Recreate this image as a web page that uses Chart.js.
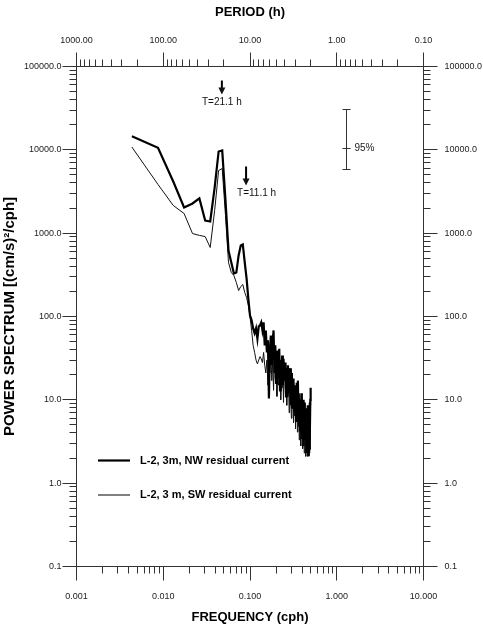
<!DOCTYPE html>
<html>
<head>
<meta charset="utf-8">
<script src="https://cdn.jsdelivr.net/npm/chart.js@4.4.0/dist/chart.umd.min.js"></script>
<style>
  html, body { margin: 0; padding: 0; background: #fff; }
</style>
</head>
<body>
<canvas id="spec" width="483" height="630"></canvas>
<script>
// frequency (cph) of each spectral estimate, harmonics of a ~230 h record
const frequency = [
  0.00435, 0.00870, 0.01304, 0.01739, 0.02174, 0.02609, 0.03043, 0.03478, 0.03913, 0.04348,
  0.04783, 0.05217, 0.05652, 0.06087, 0.06522, 0.06957, 0.07391, 0.07826, 0.08261, 0.08696,
  0.09130, 0.09565, 0.10000, 0.10435, 0.10870, 0.11304, 0.11739, 0.12174, 0.12609, 0.13043,
  0.13478, 0.13913, 0.14348, 0.14783, 0.15217, 0.15652, 0.16087, 0.16522, 0.16957, 0.17391,
  0.17826, 0.18261, 0.18696, 0.19130, 0.19565, 0.20000, 0.20435, 0.20870, 0.21304, 0.21739,
  0.22174, 0.22609, 0.23043, 0.23478, 0.23913, 0.24348, 0.24783, 0.25217, 0.25652, 0.26087,
  0.26522, 0.26957, 0.27391, 0.27826, 0.28261, 0.28696, 0.29130, 0.29565, 0.30000, 0.30435,
  0.30870, 0.31304, 0.31739, 0.32174, 0.32609, 0.33043, 0.33478, 0.33913, 0.34348, 0.34783,
  0.35217, 0.35652, 0.36087, 0.36522, 0.36957, 0.37391, 0.37826, 0.38261, 0.38696, 0.39130,
  0.39565, 0.40000, 0.40435, 0.40870, 0.41304, 0.41739, 0.42174, 0.42609, 0.43043, 0.43478,
  0.43913, 0.44348, 0.44783, 0.45217, 0.45652, 0.46087, 0.46522, 0.46957, 0.47391, 0.47826,
  0.48261, 0.48696, 0.49130, 0.49565, 0.50000
];

const nwSpectrum = [
  14600, 10600, 4170, 2030, 2270, 2610, 1420, 1380, 3530, 9550,
  9820, 2470, 620, 445, 328, 337, 540, 711, 731, 445,
  286, 164, 103, 90, 72, 63, 72, 54, 76, 78,
  85, 68, 85, 45, 68, 37, 52, 10.4, 39, 59,
  26, 52, 68, 21, 45, 16, 34, 39, 18, 41,
  13, 30, 21, 34, 15, 31, 22, 17, 28, 11,
  24, 18, 26, 12, 22, 15, 24, 8.6, 21, 7.9,
  17, 11, 18, 7.4, 15, 9.8, 14, 5.6, 16, 7.4,
  11, 17, 6.0, 12, 4.9, 10, 4.3, 9.8, 5.6, 12,
  3.4, 8.6, 4.3, 10, 2.8, 7.4, 4.9, 9.3, 3.3, 6.5,
  4.3, 7.9, 2.3, 5.6, 2.8, 8.6, 3.3, 7.0, 2.1, 5.6,
  2.6, 9.3, 3.7, 10, 14
];

const swSpectrum = [
  10800, 3840, 2150, 1720, 990, 940, 910, 673, 1870, 5650,
  5970, 1630, 445, 337, 310, 256, 205, 229, 242, 194,
  169, 136, 100, 68, 45, 37, 30, 27, 30, 33,
  31, 28, 37, 26, 21, 30, 15, 30, 21, 39,
  17, 28, 13, 34, 18, 24, 11, 26, 15, 21,
  24, 10, 28, 14, 22, 9.3, 20, 26, 12, 21,
  8.6, 17, 11, 21, 7.0, 18, 9.8, 15, 6.0, 13,
  7.9, 17, 5.3, 12, 6.5, 14, 4.5, 10, 7.4, 12,
  4.1, 9.3, 5.6, 10, 3.3, 7.4, 4.9, 8.6, 2.8, 7.0,
  4.3, 9.8, 2.6, 6.5, 3.7, 8.6, 2.3, 5.6, 3.4, 7.4,
  2.1, 4.9, 3.3, 7.0, 2.5, 4.5, 2.1, 5.6, 2.6, 6.5,
  2.3, 4.9, 3.3, 8.6, 10
];

const seriesNames = ["L-2, 3m, NW residual current", "L-2, 3 m, SW residual current"];

const freqTicks = [0.001, 0.01, 0.1, 1, 10];
const freqTickLabels = ["0.001", "0.010", "0.100", "1.000", "10.000"];
const periodTicks = [1000, 100, 10, 1, 0.1];
const periodTickLabels = ["1000.00", "100.00", "10.00", "1.00", "0.10"];
const powerTicks = [0.1, 1, 10, 100, 1000, 10000, 100000];
const powerTickLabels = ["0.1", "1.0", "10.0", "100.0", "1000.0", "10000.0", "100000.0"];

// marked periods (h): arrow top / tip in power units
const markPeriods = [21.1, 11.1];
const markArrowTop = [67900, 6310];
const markArrowTip = [46100, 3730];
// 95% confidence bar: freq position, lower / centre / upper power
const ciFreq = 1.3;
const ciPower = [5800, 10500, 30200];

const FONT = '"Liberation Sans", Arial, sans-serif';
const crisp = v => Math.round(v - 0.5) + 0.5;

function minorsOf(decades) {
  const out = [];
  decades.forEach(d => { for (let m = 2; m <= 9; m++) out.push(m * d); });
  return out;
}

const axesPlugin = {
  id: 'spectrumAxes',
  afterDraw(chart) {
    const { ctx, chartArea: a, scales: { x, y } } = chart;
    const L = crisp(a.left), R = crisp(a.right), T = crisp(a.top), B = crisp(a.bottom);
    ctx.save();
    ctx.strokeStyle = '#333';
    ctx.lineWidth = 1;
    ctx.strokeRect(L, T, R - L, B - T);

    const line = (x1, y1, x2, y2) => { ctx.beginPath(); ctx.moveTo(x1, y1); ctx.lineTo(x2, y2); ctx.stroke(); };

    // bottom frequency ticks (outward)
    freqTicks.forEach(f => { const px = crisp(x.getPixelForValue(f)); line(px, B, px, B + 14); });
    minorsOf([0.001, 0.01, 0.1, 1]).forEach(f => { const px = crisp(x.getPixelForValue(f)); line(px, B, px, B + 7); });

    // top period ticks (outward)
    periodTicks.forEach(p => { const px = crisp(x.getPixelForValue(1 / p)); line(px, T, px, T - 14); });
    minorsOf([100, 10, 1, 0.1]).forEach(p => { const px = crisp(x.getPixelForValue(1 / p)); line(px, T, px, T - 7); });

    // left / right power ticks (outward)
    powerTicks.forEach(v => {
      const py = crisp(y.getPixelForValue(v));
      line(L - 14, py, L, py); line(R, py, R + 14, py);
    });
    minorsOf([0.1, 1, 10, 100, 1000, 10000]).forEach(v => {
      const py = crisp(y.getPixelForValue(v));
      line(L - 7, py, L, py); line(R, py, R + 7, py);
    });

    // tick labels
    ctx.fillStyle = '#222';
    ctx.font = '9px ' + FONT;
    ctx.textBaseline = 'middle';
    ctx.textAlign = 'center';
    freqTicks.forEach((f, i) => ctx.fillText(freqTickLabels[i], x.getPixelForValue(f), B + 30));
    periodTicks.forEach((p, i) => ctx.fillText(periodTickLabels[i], x.getPixelForValue(1 / p), T - 26));
    ctx.textAlign = 'right';
    powerTicks.forEach((v, i) => ctx.fillText(powerTickLabels[i], L - 15, y.getPixelForValue(v)));
    ctx.textAlign = 'left';
    powerTicks.forEach((v, i) => ctx.fillText(powerTickLabels[i], R + 21, y.getPixelForValue(v)));

    // axis titles
    ctx.fillStyle = '#000';
    ctx.font = 'bold 13px ' + FONT;
    ctx.textAlign = 'center';
    ctx.fillText('PERIOD (h)', (L + R) / 2, 12);
    ctx.fillText('FREQUENCY (cph)', (L + R) / 2, 617);
    ctx.save();
    ctx.translate(10, (T + B) / 2);
    ctx.rotate(-Math.PI / 2);
    ctx.font = 'bold 15px ' + FONT;
    ctx.fillText('POWER SPECTRUM [(cm/s)\u00b2/cph]', 0, 0);
    ctx.restore();

    // marked periods
    ctx.font = '10px ' + FONT;
    ctx.fillStyle = '#111';
    ctx.strokeStyle = '#000';
    markPeriods.forEach((p, i) => {
      const px = x.getPixelForValue(1 / p);
      const top = y.getPixelForValue(markArrowTop[i]);
      const tip = y.getPixelForValue(markArrowTip[i]);
      ctx.lineWidth = 2;
      line(px, top, px, tip - 6);
      ctx.beginPath();
      ctx.moveTo(px - 3.5, tip - 7); ctx.lineTo(px + 3.5, tip - 7); ctx.lineTo(px, tip); ctx.closePath();
      ctx.fill();
      const label = 'T=' + p.toFixed(1) + ' h';
      if (i === 0) { ctx.textAlign = 'center'; ctx.fillText(label, px, tip + 8); }
      else { ctx.textAlign = 'left'; ctx.fillText(label, px - 9, tip + 8); }
    });

    // 95% bar
    ctx.lineWidth = 1;
    ctx.strokeStyle = '#333';
    const cx = crisp(x.getPixelForValue(ciFreq));
    const [lo, mid, hi] = ciPower.map(v => crisp(y.getPixelForValue(v)));
    line(cx, hi, cx, lo);
    line(cx - 4, hi, cx + 4, hi);
    line(cx - 4, lo, cx + 4, lo);
    line(cx - 4, mid, cx + 4, mid);
    ctx.textAlign = 'left';
    ctx.fillStyle = '#222';
    ctx.fillText('95%', cx + 8, mid);

    // legend
    ctx.strokeStyle = '#000';
    ctx.fillStyle = '#000';
    ctx.font = 'bold 11px ' + FONT;
    [2.2, 1].forEach((w, i) => {
      const ly = a.top + 394 + i * 34.5;
      ctx.lineWidth = w;
      line(a.left + 21.5, ly, a.left + 53.5, ly);
      ctx.fillText(seriesNames[i], a.left + 63.5, ly);
    });
    ctx.restore();
  }
};

const toPoints = vals => vals.map((v, i) => ({ x: frequency[i], y: v }));

new Chart(document.getElementById('spec'), {
  type: 'line',
  data: {
    datasets: [
      { label: seriesNames[0], data: toPoints(nwSpectrum), borderColor: '#000', borderWidth: 2.2, pointRadius: 0, tension: 0, fill: false },
      { label: seriesNames[1], data: toPoints(swSpectrum), borderColor: '#111', borderWidth: 1, pointRadius: 0, tension: 0, fill: false }
    ]
  },
  options: {
    responsive: false,
    animation: false,
    devicePixelRatio: 1,
    layout: { padding: { left: 76.5, right: 59.5, top: 66.5, bottom: 63.5 } },
    plugins: { legend: { display: false }, tooltip: { enabled: false } },
    scales: {
      x: { type: 'logarithmic', min: 0.001, max: 10, display: false },
      y: { type: 'logarithmic', min: 0.1, max: 100000, display: false }
    }
  },
  plugins: [axesPlugin]
});
</script>
</body>
</html>
